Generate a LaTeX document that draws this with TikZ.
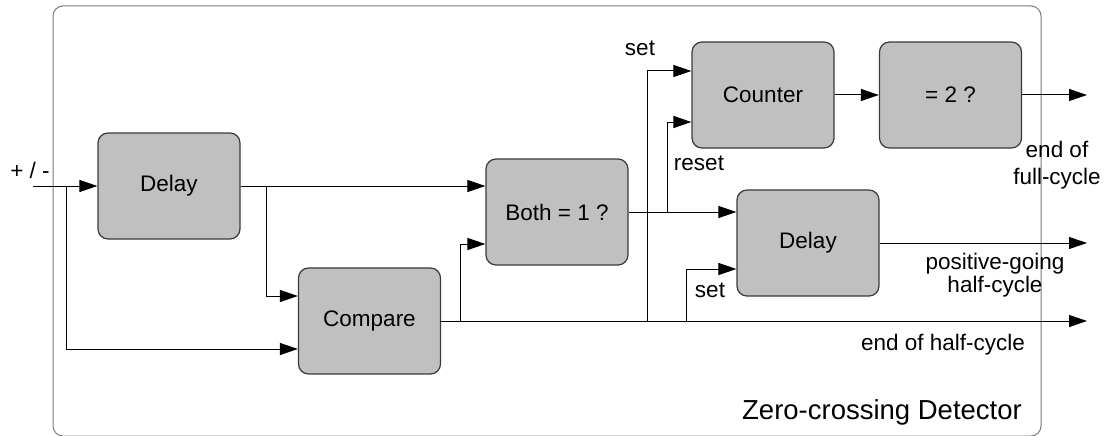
\documentclass[tikz,border=0pt]{standalone}
\usepackage{fontspec}
\setmainfont{Liberation Sans}
\usetikzlibrary{arrows.meta,calc}
\definecolor{boxfill}{HTML}{C0C0C0}
\definecolor{boxedge}{HTML}{3A3A3A}
\definecolor{frameedge}{HTML}{7A7A7A}
\tikzset{
  blk/.style={draw=boxedge, line width=1.2pt, fill=boxfill, rounded corners=10pt,
    minimum width=142pt, minimum height=106pt, inner sep=0pt,
    font=\fontsize{22.5}{27}\selectfont},
  wire/.style={draw=black, line width=1pt},
  sig/.style={wire, -{Triangle[length=18pt,width=12pt]}},
  lbl/.style={font=\fontsize{22.5}{27}\selectfont, inner sep=0pt, align=center},
}
\begin{document}
\begin{tikzpicture}[x=1pt,y=-1pt]
\useasboundingbox (0,0) rectangle (1104,436);
% enclosing frame
\draw[frameedge, line width=1pt, rounded corners=10pt] (53,6) rectangle (1041,436);

% blocks
\node[blk] (delayA)  at (169,186)   {Delay};
\node[blk] (compare) at (369.5,321) {Compare};
\node[blk] (both)    at (557,212)   {Both = 1 ?};
\node[blk] (counter) at (763,95)    {Counter};
\node[blk] (eqtwo)   at (950.5,95)  {= 2 ?};
\node[blk] (delayB)  at (808,243)   {Delay};

% free ends and branch points
\coordinate (in)   at (33,186);
\coordinate (jA)   at (66,186);
\coordinate (jB)   at (266,186);
\coordinate (jC)   at (460,321);
\coordinate (jD)   at (647,321);
\coordinate (jE)   at (686,321);
\coordinate (jF)   at (667,212);
\coordinate (outA) at (1087,95);
\coordinate (outB) at (1087,243);
\coordinate (outC) at (1087,321);

% input stage
\draw[sig] (in) -- (delayA.west);
\draw[sig] (jA) |- ($(compare.west)+(0,28)$);
\draw[sig] (delayA.east) -- ($(both.west)+(0,-26)$);
\draw[sig] (jB) |- ($(compare.west)+(0,-25)$);

% compare output and its branches
\draw[sig] (compare.east) -- (outC);
\draw[sig] (jC) |- ($(both.west)+(0,32)$);
\draw[sig] (jD) |- ($(counter.west)+(0,-24)$);
\draw[sig] (jE) |- ($(delayB.west)+(0,26)$);

% coincidence output
\draw[sig] (both.east) -- ($(delayB.west)+(0,-31)$);
\draw[sig] (jF) |- ($(counter.west)+(0,27)$);

% counter chain and outputs
\draw[sig] (counter.east) -- (eqtwo.west);
\draw[sig] (eqtwo.east) -- (outA);
\draw[sig] (delayB.east) -- (outB);

% labels
\node[lbl] (lpm)    at (30,170)  {+ / -};
\node[lbl] (lsetA)  at (640,48)  {set};
\node[lbl] (lreset) at (699,163) {reset};
\node[lbl] (lsetB)  at (710,290) {set};
\node[lbl] (lfull)  at (1057,165) {end of\\full-cycle};
\node[lbl, font=\fontsize{22.5}{23}\selectfont] (lpos) at (995,275) {positive-going\\half-cycle};
\node[lbl] (lhalf)  at (943,345) {end of half-cycle};
\node[lbl, font=\fontsize{27.5}{33}\selectfont] (ltitle) at (882,412) {Zero-crossing Detector};
\end{tikzpicture}
\end{document}
